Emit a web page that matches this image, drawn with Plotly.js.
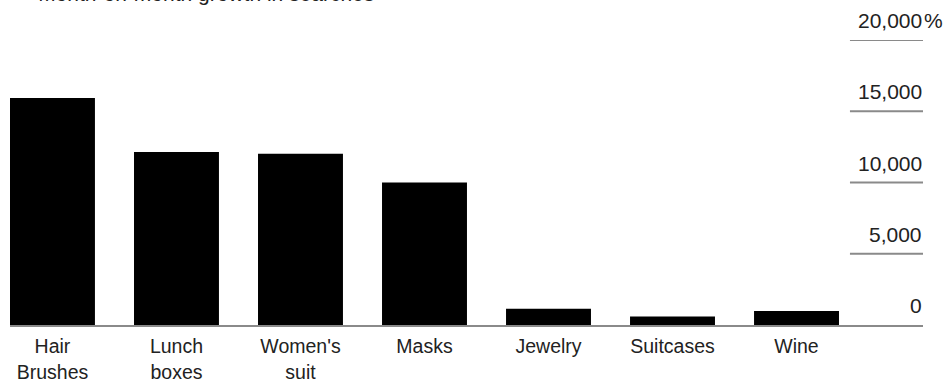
<!DOCTYPE html>
<html>
<head>
<meta charset="utf-8">
<script src="https://cdn.plot.ly/plotly-3.0.1.min.js"></script>
<style>
  html, body { margin: 0; padding: 0; background: #fff; }
  #chart { width: 946px; height: 382px; }
</style>
</head>
<body>
<div id="chart"></div>
<script>
// Data
var categories = ["Hair<br>Brushes", "Lunch<br>boxes", "Women's<br>suit", "Masks", "Jewelry", "Suitcases", "Wine"];
var growth = [15930, 12140, 12020, 10000, 1140, 600, 980];
var seriesName = "Month-on-month growth in searches";
var tickVals = [0, 5000, 10000, 15000, 20000];
var tickLabels = ["0", "5,000", "10,000", "15,000", "20,000"];
var unitSuffix = "%";

var FONT = "'Liberation Sans', Arial, sans-serif";
var TEXT = "#222";
var GRID = "#8a8a8a";

var trace = {
  type: "bar",
  x: categories,
  y: growth,
  name: seriesName,
  marker: { color: "#000", line: { width: 0 } },
  hoverinfo: "x+y",
  showlegend: true
};

var annotations = [];
var shapes = [];
tickVals.forEach(function (v, i) {
  annotations.push({
    xref: "paper", yref: "y", x: 1, y: v,
    xanchor: "right", yanchor: "bottom", yshift: 7, borderpad: 0,
    text: tickLabels[i], showarrow: false,
    font: { family: FONT, size: 21, color: TEXT }
  });
  if (v !== 0) {
    shapes.push({
      type: "line", xref: "paper", yref: "y",
      x0: 0.92, x1: 1, y0: v, y1: v,
      line: { color: GRID, width: 2 }
    });
  }
});
// unit suffix hanging to the right of the top label
annotations.push({
  xref: "paper", yref: "y", x: 1, y: tickVals[tickVals.length - 1],
  xanchor: "left", yanchor: "bottom", yshift: 7, borderpad: 0,
  text: unitSuffix, showarrow: false,
  font: { family: FONT, size: 21, color: TEXT }
});

var layout = {
  width: 946, height: 382,
  margin: { l: 10, r: 23, t: 40, b: 57, pad: 0, autoexpand: false },
  paper_bgcolor: "#fff", plot_bgcolor: "#fff",
  font: { family: FONT, size: 21, color: TEXT },
  bargap: 0.315,
  showlegend: true,
  legend: {
    x: -0.013, xanchor: "left", y: 1.092, yanchor: "bottom",
    orientation: "h", bgcolor: "rgba(0,0,0,0)",
    font: { family: FONT, size: 21, color: TEXT }
  },
  xaxis: {
    type: "category",
    range: [-0.3425, 7.02],
    showgrid: false, zeroline: false,
    showline: true, linecolor: GRID, linewidth: 2,
    ticks: "outside", ticklen: 3, tickcolor: "rgba(0,0,0,0)",
    tickfont: { family: FONT, size: 19.5, color: TEXT },
    automargin: false,
    fixedrange: true
  },
  yaxis: {
    range: [0, 20000],
    showgrid: false, zeroline: false, showline: false,
    showticklabels: false, ticks: "",
    automargin: false,
    fixedrange: true
  },
  shapes: shapes,
  annotations: annotations
};

Plotly.newPlot("chart", [trace], layout, { displayModeBar: false, staticPlot: true });
</script>
</body>
</html>
